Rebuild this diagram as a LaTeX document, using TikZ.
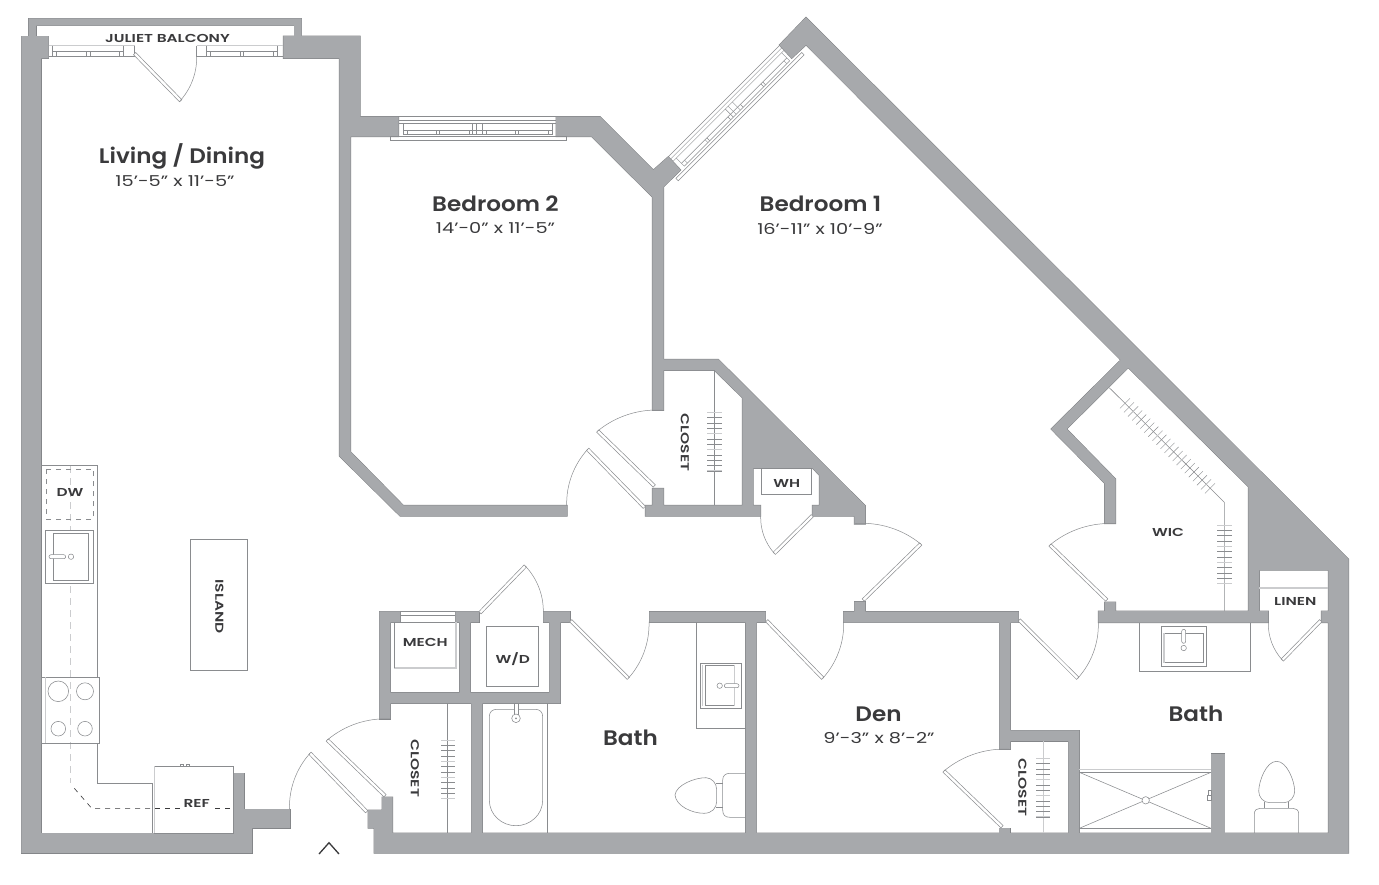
\documentclass[tikz,border=0pt]{standalone}
\usepackage{fontspec}
\usetikzlibrary{calc}
\newfontfamily\labfont[FakeStretch=1.1,UprightFont=* SemiBold]{Poppins}
\newfontfamily\smallfont[FakeStretch=1.34,UprightFont=* SemiBold]{Poppins}
\newfontfamily\dimfont[FakeStretch=1.29]{Poppins}
\definecolor{wallc}{HTML}{A7A9AC}
\definecolor{edgec}{HTML}{808285}
\definecolor{fixc}{HTML}{8A8C8F}
\definecolor{lightc}{HTML}{CBCCCE}
\definecolor{inkc}{HTML}{3A3A3C}
\tikzset{
  fix/.style={draw=fixc,line width=0.55pt},
  lightbar/.style={draw=lightc,line width=1.2pt},
  leaf/.style={draw=fixc,fill=white,line width=0.5pt},
  swing/.style={draw=fixc,line width=0.5pt,looseness=0.88},
  roomname/.style={text=inkc,font=\labfont\fontsize{21}{21}\selectfont,inner sep=0pt},
  roomdim/.style={text=inkc,font=\dimfont\fontsize{15}{15}\selectfont,inner sep=0pt},
  smalllab/.style={text=inkc,font=\smallfont\fontsize{11.5}{11.5}\selectfont,inner sep=0pt},
}
\newcommand\wallshapes[1]{%
  \path[#1] (21.3,36)--(48.7,36)--(48.7,58.3)--(41,58.3)--(41,833)--(233,833)--(233,773)--(244,773)--(244,809)--(290,809)--(290,828)--(252,828)--(252,853)--(21.3,853)--cycle;
  \path[#1] (28.7,36)--(28.7,18.3)--(301.7,18.3)--(301.7,36)--(294,36)--(294,25.7)--(36,25.7)--(36,36)--cycle;
  \path[#1] (283.3,36)--(360,36)--(360,116.7)--(398.7,116.7)--(398.7,136.7)--(350.5,136.7)--(350.5,451.7)--(403.3,505.3)--(567,505.3)--(567,516)--(400,516)--(339.3,456)--(339.3,58.3)--(283.3,58.3)--cycle;
  \path[#1] (556,116.7)--(600,116.7)--(653.3,170)--(668.3,156.7)--(680.7,170)--(663.7,186.7)--(663.7,410.3)--(652.3,410.3)--(652.3,197)--(591.7,136.7)--(556,136.7)--cycle;
  \path[#1] (779.3,45)--(806,17.3)--(1348.7,559.3)--(1348.7,853)--(374,853)--(374,828)--(368,828)--(368,810)--(382,810)--(382,797)--(392.7,797)--(392.7,833)--(1328.3,833)--(1328.3,622.7)--(1321.3,622.7)--(1321.3,611)--(1328.3,611)--(1328.3,570)--(1259.3,570)--(1259.3,611)--(1268.3,611)--(1268.3,622.7)--(1098.3,622.7)--(1098.3,611)--(1104.7,611)--(1104.7,602)--(1115.7,602)--(1115.7,611)--(1248.3,611)--(1248.3,486.7)--(1128.3,367.7)--(1066.7,429)--(1115.7,479)--(1115.7,523.7)--(1104.7,523.7)--(1104.7,483.3)--(1051,429)--(1120.7,360)--(806,45)--(791.7,58.3)--cycle;
  \path[#1] (471.3,840)--(471.3,703.3)--(390.3,703.3)--(390.3,719)--(379.3,719)--(379.3,611.3)--(400.3,611.3)--(400.3,622.3)--(390.3,622.3)--(390.3,692.7)--(459.7,692.7)--(459.7,622.3)--(455.3,622.3)--(455.3,611.3)--(479,611.3)--(479,622.3)--(470.3,622.3)--(470.3,692.7)--(549.3,692.7)--(549.3,622.3)--(543.3,622.3)--(543.3,611.3)--(570,611.3)--(570,622.3)--(560.3,622.3)--(560.3,703.3)--(482.3,703.3)--(482.3,840)--cycle;
  \path[#1] (649.3,611.7)--(765.7,611.7)--(765.7,622.3)--(756.7,622.3)--(756.7,840)--(745.7,840)--(745.7,622.3)--(649.3,622.3)--cycle;
  \path[#1] (843.3,611.7)--(854.3,611.7)--(854.3,601.7)--(865.3,601.7)--(865.3,611.7)--(1018.7,611.7)--(1018.7,622.7)--(1010.3,622.7)--(1010.3,730.3)--(1079.3,730.3)--(1079.3,840)--(1068.3,840)--(1068.3,741)--(1010.3,741)--(1010.3,749.3)--(999.3,749.3)--(999.3,622.7)--(843.3,622.7)--cycle;
  \path[#1] (999.3,840)--(999.3,828)--(1010.3,828)--(1010.3,840)--cycle;
  \path[#1] (1211,840)--(1211,753.7)--(1224.7,753.7)--(1224.7,840)--cycle;
  \path[#1] (660,359.3)--(718.3,359.3)--(865.3,505.7)--(865.3,524)--(854.3,524)--(854.3,516)--(812.3,516)--(812.3,505.3)--(819.3,505.3)--(819.3,475.3)--(812.7,468.3)--(753,468.3)--(753,505.3)--(760.7,505.3)--(760.7,516)--(645.3,516)--(645.3,505.3)--(652.3,505.3)--(652.3,488.3)--(663.7,488.3)--(663.7,505.3)--(742.3,505.3)--(742.3,397.7)--(714.3,370.3)--(660,370.3)--cycle;
}
\newcommand\doorleaf[2]{\draw[leaf] ($(#1)!1.6pt!90:(#2)$) -- ($(#2)!1.6pt!-90:(#1)$) -- ($(#2)!1.6pt!90:(#1)$) -- ($(#1)!1.6pt!-90:(#2)$) -- cycle;}
\newcommand\doorswing[3]{\draw[swing] (#1) to[bend #3=22] (#2);}
% hangers: x1,x2,y0
\newcommand\hangers[3]{%
  \foreach \k in {0,...,11}{\draw[fix,line width=0.45pt] (#1,#3+\k*5.33)--(#2,#3+\k*5.33);}
  \foreach \k in {0,4,7,11}{\draw[lightbar,line width=1pt] (#1,#3+\k*5.33)--(#2,#3+\k*5.33);}
}
\newcommand\windowunit{%
  \foreach \v in {0,3.3,6.6}{\draw[fix,line width=0.45pt] (0,\v)--(157.4,\v);}
  \foreach \v in {14,18}{\draw[fix,line width=0.45pt] (4.6,\v)--(153.6,\v);}
  \foreach \u in {4.6,74,78,84,153.6}{\draw[fix,line width=0.45pt] (\u,6.6)--(\u,18);}
  \foreach \u in {9,38,40.6,70.3,88,117,119.6,149.6}{\draw[fix,line width=0.45pt] (\u,14)--(\u,18);}
}
\begin{document}
\begin{tikzpicture}[x=1pt,y=-1pt]
\useasboundingbox (0,0) rectangle (1379,884);
\fill[white] (0,0) rectangle (1379,884);
% walls
\wallshapes{draw=edgec,fill=wallc,line width=1pt,line join=miter}
\wallshapes{fill=wallc}
% balcony windows
\foreach \a/\b in {48.7/135,196.7/283.3}{
  \draw[lightbar] (\a,45.5)--(\b,45.5);
  \draw[fix] (\a,56.7)--(\b,56.7);
}
\draw[fix] (52.3,51.7)--(123.3,51.7);
\draw[fix] (206.7,51.7)--(277.7,51.7);
\foreach \x in {52.3,123.3,134.3,196.7,206.7,277.7}{\draw[fix] (\x,45.5)--(\x,56.7);}
\foreach \x in {56.7,86.7,90,119.5,210,240,243.3,273.3}{\draw[fix] (\x,51.7)--(\x,56.7);}
% bedroom 2 window
\begin{scope}[shift={(398.7,116.7)}]\windowunit\end{scope}
\draw[draw=fixc,line width=0.5pt] (390.3,136.7) rectangle (566.7,140);
% bedroom 1 window
\begin{scope}[shift={(668.3,156.7)},rotate=45]
  \windowunit
  \draw[draw=fixc,line width=0.5pt] (-9.9,20.7) rectangle (168,24);
\end{scope}
% mech window
\draw[fix] (400.3,611.6)--(455.3,611.6);
\draw[fix] (400.3,615)--(455.3,615);
\draw[fix] (400.3,622.3)--(455.3,622.3);
% doors
\doorleaf{134.6,53.6}{180.7,100.7}
\doorswing{179.3,101.7}{196.7,56.7}{right}
\doorleaf{366.7,811.7}{310,753.3}
\doorswing{310,753.3}{289.5,809.3}{right}
\doorleaf{385,795.7}{327.3,740}
\doorswing{327.3,740}{390.7,719}{left}
\doorleaf{480,612.7}{525.3,566}
\doorswing{525.3,566}{543.3,611.5}{left}
\doorleaf{570.7,620.7}{628.3,678.3}
\doorswing{628.3,678.3}{649,621.7}{right}
\doorleaf{766.7,620.7}{822.7,678.3}
\doorswing{822.7,678.3}{843.7,621.7}{right}
\doorleaf{863.3,600}{920.7,544}
\doorswing{920.7,544}{855,523.6}{right}
\doorleaf{812.3,515.7}{774.3,553.3}
\doorswing{774.3,553.3}{760.7,516}{left}
\doorleaf{654.3,486}{597.7,431}
\doorswing{597.7,431}{663.3,410.3}{left}
\doorleaf{644.3,507.3}{587.7,449.3}
\doorswing{587.7,449.3}{566.7,505.5}{right}
\doorleaf{1106.7,600}{1050,545}
\doorswing{1050,545}{1115.7,523.7}{left}
\doorleaf{1019.3,620}{1077.7,678.3}
\doorswing{1077.7,678.3}{1098.3,622.7}{right}
\doorleaf{1320.7,620.7}{1282.3,660}
\doorswing{1282.3,660}{1268.3,622.7}{left}
\doorleaf{1002,826.7}{944,771}
\doorswing{944,771}{1010.3,749.3}{left}
% kitchen
\draw[fix] (41,465.7)--(97.3,465.7)--(97.3,677.3);
\draw[fix] (97.3,743.3)--(97.3,783.3)--(152.7,783.3)--(152.7,833);
\draw[lightc,line width=0.8pt,dash pattern=on 7pt off 5pt] (70.3,466)--(70.3,783.3);
\draw[fix] (41,677.3) rectangle (99.3,743.3);
\draw[lightbar] (45.3,677.3)--(45.3,743.3);
\draw[fix] (58.3,691.3) circle[radius=10.3];
\draw[fix] (85,691.3) circle[radius=8.5];
\draw[fix] (58.3,728.7) circle[radius=7.3];
\draw[fix] (85,728.7) circle[radius=7.3];
\draw[fixc,line width=0.6pt,dash pattern=on 5pt off 5pt] (46.7,469) rectangle (93.3,519.3);
\draw[fix,fill=white] (45.3,530) rectangle (93.3,583.3);
\draw[lightbar] (53.7,533.3)--(53.7,580.7);
\draw[fix] (53.7,533.3) rectangle (88.7,580.7);
\draw[fix,fill=white,rounded corners=2pt] (49,554.7) rectangle (65.7,558.7);
\draw[fix,fill=white] (71,556.7) circle[radius=2.7];
\draw[inkc,line width=0.6pt,dash pattern=on 5pt off 5pt] (74.3,788.3)--(91.7,808.3)--(233,808.3);
\draw[fix] (190.3,539.7) rectangle (247.7,670.3);
\draw[fix,fill=white] (154.7,766.3) rectangle (233.3,833);
\draw[lightbar] (154.7,766.3)--(154.7,833);
\draw[inkc,line width=0.6pt,dash pattern=on 5pt off 5pt] (155,808.3)--(233,808.3);
\draw[fix] (180.3,764.3) rectangle (183.3,766.3);
\draw[fix] (186.3,764.3) rectangle (189.7,766.3);
% mech, w/d
\draw[lightbar] (456,622)--(456,668)--(394.3,668);
\draw[fix] (394.3,622.3)--(394.3,668);
\draw[fix] (486.3,626.7) rectangle (538.7,686.7);
% hall closet
\draw[fix] (447.3,703.3)--(447.3,833);
\hangers{441}{455}{740}
% tub
\draw[fix] (547.3,703.3)--(547.3,833);
\draw[fix] (497,709.3)--(535,709.3) .. controls (540,709.3) and (542.7,712) .. (542.7,717)--(542.7,800) .. controls (542.7,815) and (530,825.7) .. (516,825.7) .. controls (502,825.7) and (489.3,815) .. (489.3,800)--(489.3,717) .. controls (489.3,712) and (492,709.3) .. (497,709.3)--cycle;
\draw[fix,fill=white] (514,703.3) rectangle (518,716);
\draw[fix,fill=white] (516,718.3) circle[radius=4.3];
\fill[fixc] (516,718.3) circle[radius=1];
% bath 2 vanity and toilet
\draw[fix] (696.7,622.3)--(696.7,728.3)--(745.7,728.3);
\draw[fix] (700.7,663.3) rectangle (741.7,708.3);
\draw[fix] (705.3,665.3) rectangle (734.3,705.7);
\draw[lightbar] (702.7,665.3)--(702.7,705.7);
\draw[lightbar] (734.3,665.3)--(734.3,705.7);
\draw[fix,fill=white,rounded corners=2pt] (724.3,683.7) rectangle (739,687.7);
\draw[fix,fill=white] (719.7,685.7) circle[radius=2.7];
\draw[fix] (745.7,773.3)--(730,773.3) .. controls (725,773.3) and (722.7,776) .. (722.7,780)--(722.7,810) .. controls (722.7,815) and (725,817.3) .. (730,817.3)--(745.7,817.3);
\draw[fix] (716,783.3)--(722.7,783.3);
\draw[fix] (716,807.7)--(722.7,807.7);
\draw[fix] (675,795) .. controls (676,785) and (695,777.5) .. (706,777.7) .. controls (712,778) and (716.7,783) .. (716.7,790)--(716.7,801) .. controls (716.7,808) and (712,813.3) .. (704,813.3) .. controls (692,813.3) and (676,806) .. (675,795)--cycle;
% bedroom closet
\draw[fix] (714.3,370.3)--(714.3,505.3);
\hangers{707.3}{721.7}{412.3}
\draw[fix] (761.3,468.3) rectangle (811.7,494.3);
% WIC
\draw[fix] (1109.3,387.7)--(1224.3,502.3)--(1224.3,611);
\foreach \i in {0,...,21}{\draw[fix,line width=0.45pt] (1125+\i*4.05-5,403.3+\i*4.05+5)--(1125+\i*4.05+5,403.3+\i*4.05-5);}
\foreach \i in {2,8,14,20}{\draw[lightbar,line width=0.8pt] (1125+\i*4.05-5,403.3+\i*4.05+5)--(1125+\i*4.05+5,403.3+\i*4.05-5);}
\hangers{1217.3}{1231.7}{525}
% linen
\draw[lightbar] (1259.3,588)--(1328.3,588);
% bath 1
\draw[fix] (1139.3,622.7)--(1139.3,671.3)--(1250.7,671.3)--(1250.7,622.7);
\draw[fix] (1161.3,626) rectangle (1206.7,666.7);
\draw[fix] (1164,633.3) rectangle (1203.7,662.7);
\draw[lightbar] (1164,633.3)--(1164,662.7);
\draw[fix,fill=white,rounded corners=2pt] (1181.7,629.3) rectangle (1185.7,643.3);
\draw[fix,fill=white] (1183.7,648) circle[radius=2.7];
\draw[lightbar,line width=1.6pt] (1079.3,769.3)--(1211,769.3);
\draw[fix] (1079.3,772.3)--(1211,772.3);
\draw[fix] (1079.3,828.3)--(1211,828.3);
\draw[fix] (1079.3,772.3)--(1211,828.3);
\draw[fix] (1079.3,828.3)--(1211,772.3);
\draw[fix,fill=white] (1145.7,800.3) circle[radius=3.7];
\draw[fix] (1207.3,795.5) rectangle (1211,800.7);
\draw[fix] (1208.5,790.7) rectangle (1211,795.5);
\draw[fix] (1254.3,833)--(1254.3,814) .. controls (1254.3,810) and (1257,808.3) .. (1260,808.3)--(1293,808.3) .. controls (1296,808.3) and (1298.7,810) .. (1298.7,814)--(1298.7,833);
\draw[fix] (1264.3,802)--(1264.3,808.3);
\draw[fix] (1288.7,802)--(1288.7,808.3);
\draw[fix] (1276.7,761.3) .. controls (1266,761.3) and (1259,781) .. (1258.7,791) .. controls (1258.7,797) and (1263,802.7) .. (1270,802.7)--(1284,802.7) .. controls (1290,802.7) and (1294.7,797) .. (1294.7,791) .. controls (1294.5,781) and (1287,761.3) .. (1276.7,761.3)--cycle;
% den closet
\draw[lightbar] (1043.3,741)--(1043.3,833);
\hangers{1036}{1050}{758.3}
% entry chevron
\draw[inkc,line width=1.3pt] (319,854)--(329,842.7)--(339,854);
% labels
\node[smalllab] (juliet) at (167.5,38) {JULIET BALCONY};
\node[roomname] (living) at (182,156) {Living / Dining};
\node[roomdim] (livingd) at (175,181) {15’-5” x 11’-5”};
\node[roomname] (bed2) at (495.5,204) {Bedroom 2};
\node[roomdim] (bed2d) at (495.5,228.5) {14’-0” x 11’-5”};
\node[roomname] (bed1) at (820.5,204) {Bedroom 1};
\node[roomdim] (bed1d) at (820,228.5) {16’-11” x 10’-9”};
\node[roomname] (den) at (878.5,714) {Den};
\node[roomdim] (dend) at (879,738) {9’-3” x 8’-2”};
\node[roomname] (bathb) at (630.5,738) {Bath};
\node[roomname] (batha) at (1196,714) {Bath};
\node[smalllab] (dw) at (70,492.8) {DW};
\node[smalllab,rotate=-90] (island) at (219.3,606.7) {ISLAND};
\node[smalllab,fill=white,inner sep=2pt] (ref) at (196.7,803.8) {REF};
\node[smalllab] (mech) at (425.3,642.2) {MECH};
\node[smalllab] (wd) at (512.7,658.8) {W/D};
\node[smalllab,rotate=-90] (closeta) at (415,768.3) {CLOSET};
\node[smalllab,rotate=-90] (closetb) at (685,442.7) {CLOSET};
\node[smalllab,rotate=-90] (closetc) at (1022.3,787.7) {CLOSET};
\node[smalllab] (wh) at (786.7,483.2) {WH};
\node[smalllab] (wic) at (1168,532.8) {WIC};
\node[smalllab] (linen) at (1295.3,601.2) {LINEN};
\end{tikzpicture}
\end{document}
